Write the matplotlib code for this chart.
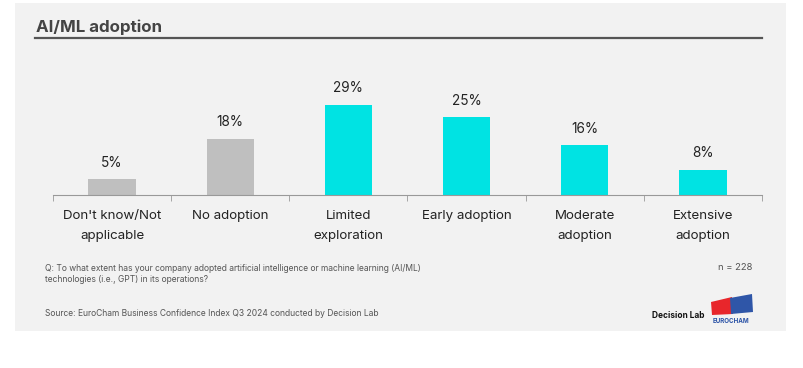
import numpy as np
import matplotlib.pyplot as plt
from matplotlib.patches import Rectangle, Polygon
from matplotlib.lines import Line2D

categories = ["Don't know/Not\napplicable", "No adoption", "Limited\nexploration",
              "Early adoption", "Moderate\nadoption", "Extensive\nadoption"]
values = [5, 18, 29, 25, 16, 8]
bar_colors = ['#bfbfbf', '#bfbfbf', '#00e3e3', '#00e3e3', '#00e3e3', '#00e3e3']

plt.rcParams['font.family'] = ['Inter', 'DejaVu Sans']

W, H = 804, 368
fig = plt.figure(figsize=(W / 100, H / 100), dpi=100)
fig.patch.set_facecolor('white')


def fx(px):
    return px / W


def fy(py):
    return 1 - py / H


# grey card behind everything
fig.patches.append(Rectangle((fx(15), fy(331)), fx(786) - fx(15), fy(3) - fy(331),
                             transform=fig.transFigure, facecolor='#f2f2f2',
                             edgecolor='none', zorder=-5))

fig.text(fx(36), fy(27), 'AI/ML adoption', fontsize=12.2, fontweight='bold',
         color='#444444', va='center', ha='left')
fig.lines.append(Line2D([fx(35), fx(762)], [fy(38), fy(38)], transform=fig.transFigure,
                        color='#555555', lw=1.6))

ax = fig.add_axes([fx(53), fy(195), fx(762) - fx(53), (195 - 75) / H])
ax.set_facecolor('none')
x = np.arange(len(values))
ax.bar(x, values, width=0.4, color=bar_colors)
for xi, v in zip(x, values):
    ax.annotate(f'{v}%', (xi, v), xytext=(0, 7), textcoords='offset points',
                ha='center', va='bottom', fontsize=9.8, color='#222222')

ax.set_xlim(-0.5, 5.5)
ax.set_ylim(0, 38.7)
ax.set_yticks([])
for s in ['top', 'right', 'left']:
    ax.spines[s].set_visible(False)
ax.spines['bottom'].set_color('#999999')
ax.set_xticks(x)
ax.set_xticklabels(categories, fontsize=9.6, color='#222222', linespacing=1.85)
ax.tick_params(axis='x', which='major', length=0, pad=11)
ax.set_xticks(np.arange(-0.5, 6, 1), minor=True)
ax.tick_params(axis='x', which='minor', length=4, color='#999999')

fig.text(fx(45), fy(274), 'Q: To what extent has your company adopted artificial intelligence or machine learning (AI/ML)\n'
         'technologies (i.e., GPT) in its operations?', fontsize=6.1, color='#555555',
         va='center', ha='left', linespacing=1.35)
fig.text(fx(752), fy(268), 'n = 228', fontsize=6.8, color='#555555', va='center', ha='right')
fig.text(fx(45), fy(314), 'Source: EuroCham Business Confidence Index Q3 2024 conducted by Decision Lab',
         fontsize=6.1, color='#555555', va='center', ha='left')
fig.text(fx(705), fy(315), 'Decision Lab', fontsize=6, fontweight='bold', color='#111111',
         va='center', ha='right')

# small flag-like logo
fig.patches.append(Polygon([(fx(711), fy(302)), (fx(732), fy(297)), (fx(733), fy(314)), (fx(712), fy(315))],
                           closed=True, transform=fig.transFigure, facecolor='#e8262b', edgecolor='none'))
fig.patches.append(Polygon([(fx(730), fy(298)), (fx(752), fy(294)), (fx(753), fy(312)), (fx(731), fy(314))],
                           closed=True, transform=fig.transFigure, facecolor='#2f56a8', edgecolor='none'))
fig.text(fx(731), fy(321), 'EUROCHAM', fontsize=4.5, fontweight='bold', color='#2f56a8',
         va='center', ha='center')

fig.savefig('out.png', dpi=100)
